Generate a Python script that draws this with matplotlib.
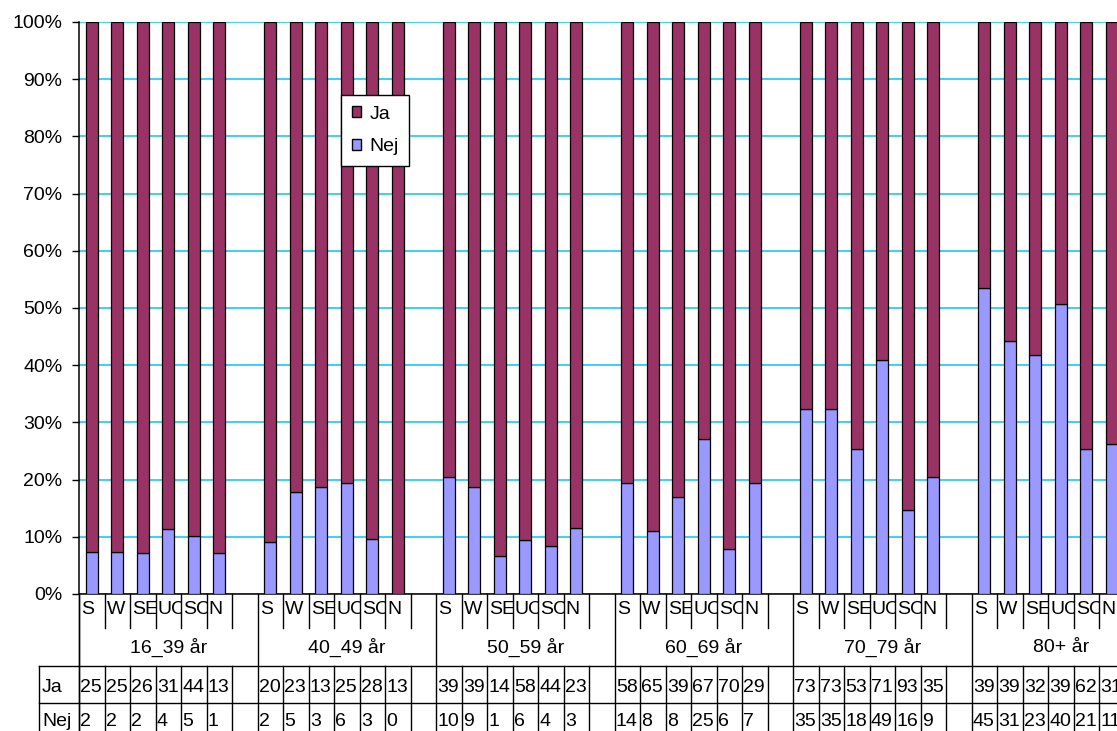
import matplotlib
matplotlib.use("Agg")
import matplotlib.pyplot as plt
import numpy as np
from matplotlib.lines import Line2D
from matplotlib.patches import Patch, Rectangle
from matplotlib.ticker import PercentFormatter
from matplotlib.transforms import blended_transform_factory

plt.rcParams['font.family'] = ['Liberation Sans', 'DejaVu Sans']

# answers per age group and category
groups = ["16_39 år", "40_49 år", "50_59 år", "60_69 år", "70_79 år", "80+ år"]
categories = ["S", "W", "SE", "UC", "SC", "N"]
ja = [
    [25, 25, 26, 31, 44, 13],
    [20, 23, 13, 25, 28, 13],
    [39, 39, 14, 58, 44, 23],
    [58, 65, 39, 67, 70, 29],
    [73, 73, 53, 71, 93, 35],
    [39, 39, 32, 39, 62, 31],
]
nej = [
    [2, 2, 2, 4, 5, 1],
    [2, 5, 3, 6, 3, 0],
    [10, 9, 1, 6, 4, 3],
    [14, 8, 8, 25, 6, 7],
    [35, 35, 18, 49, 16, 9],
    [45, 31, 23, 40, 21, 11],
]

JA_COL = "#993366"
NEJ_COL = "#9999FF"
GRID_COL = "#1EC8F0"
FS = 14

W, H = 1117, 731
fig = plt.figure(figsize=(W / 100, H / 100), dpi=100)


def fx(px):
    return px / W


def fy(py):
    return 1 - py / H


slot_px = 25.5
per_group = len(categories) + 1
n_slots = per_group * len(groups)
left_px, top_px, bottom_px = 79, 22, 594
ax = fig.add_axes([fx(left_px), fy(bottom_px),
                   n_slots * slot_px / W, (bottom_px - top_px) / H])

# 100% stacked bars, one empty slot after each group
for g in range(len(groups)):
    for i in range(len(categories)):
        x = g * per_group + i
        tot = ja[g][i] + nej[g][i]
        n_frac = nej[g][i] / tot
        j_frac = ja[g][i] / tot
        ax.bar(x, n_frac, width=0.47, color=NEJ_COL, edgecolor="black", lw=0.9, zorder=3)
        ax.bar(x, j_frac, bottom=n_frac, width=0.47, color=JA_COL,
               edgecolor="black", lw=0.9, zorder=3)

ax.set_xlim(-0.5, n_slots - 0.5)
ax.set_ylim(0, 1)
ax.set_xticks([])
ax.set_yticks(np.arange(0, 1.01, 0.1))
ax.yaxis.set_major_formatter(PercentFormatter(1.0, decimals=0))
ax.tick_params(axis="y", length=5, width=1, pad=7, labelsize=FS)
ax.yaxis.grid(True, color=GRID_COL, lw=1.2, zorder=0)
ax.set_axisbelow(True)
for s in ["top", "right"]:
    ax.spines[s].set_visible(False)
ax.spines["left"].set_linewidth(1.1)
ax.spines["bottom"].set_linewidth(1.1)

handles = [Patch(fc=JA_COL, ec="black", label="Ja"),
           Patch(fc=NEJ_COL, ec="black", label="Nej")]
leg = ax.legend(handles=handles, loc="upper left", bbox_to_anchor=(fx(341), fy(95)),
                bbox_transform=fig.transFigure, fancybox=False, framealpha=1,
                edgecolor="black", borderaxespad=0, handlelength=0.5, handleheight=0.5,
                handletextpad=0.4, labelspacing=0.8, borderpad=0.55, fontsize=FS)
leg.get_frame().set_linewidth(1)

# category / group labels and data table under the axes
tr = blended_transform_factory(ax.transData, fig.transFigure)
line_kw = dict(color="black", lw=1.0)


def vline(x, y0, y1, t=tr):
    fig.add_artist(Line2D([x, x], [fy(y0), fy(y1)], transform=t, **line_kw))


row_cat_end = 628
row_grp_end = 666
row_ja_end = 703
row_end = 745

for k in range(n_slots + 1):
    x = k - 0.5
    if k % per_group == 0:
        vline(x, bottom_px, row_end)
    else:
        vline(x, bottom_px, row_cat_end)
        vline(x, row_grp_end, row_end)

for y in [row_grp_end, row_ja_end]:
    fig.add_artist(Line2D([fx(39), 1], [fy(y), fy(y)], transform=fig.transFigure, **line_kw))
vline(fx(39), row_grp_end, row_end, t=fig.transFigure)
vline(fx(left_px), bottom_px, row_end, t=fig.transFigure)

fig.text(fx(42), fy(687), "Ja", fontsize=FS, va="center", ha="left")
fig.text(fx(42), fy(722), "Nej", fontsize=FS, va="center", ha="left")

for g in range(len(groups)):
    fig.text(g * per_group + 3, fy(647), groups[g], transform=tr, fontsize=FS,
             ha="center", va="center")
    for i in range(len(categories)):
        k = g * per_group + i
        clip = Rectangle((k - 0.5, fy(row_cat_end)), 1, fy(bottom_px) - fy(row_cat_end),
                         transform=tr)
        t = fig.text(k - 0.5 + 0.09, fy(610), categories[i], transform=tr,
                     fontsize=FS, ha="left", va="center")
        t.set_clip_path(clip)
        fig.text(k - 0.5 + 0.05, fy(687), str(ja[g][i]), transform=tr,
                 fontsize=FS, ha="left", va="center")
        fig.text(k - 0.5 + 0.05, fy(722), str(nej[g][i]), transform=tr,
                 fontsize=FS, ha="left", va="center")

fig.savefig("out.png", dpi=100)
